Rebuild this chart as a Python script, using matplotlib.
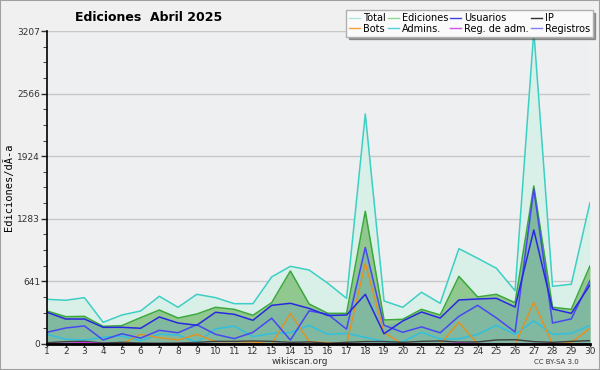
import numpy as np
import matplotlib
matplotlib.use("Agg")
import matplotlib.pyplot as plt
from matplotlib.lines import Line2D

# daily values, Abril 2025
dias = list(range(1, 31))
total = [458, 448, 475, 222, 297, 338, 489, 376, 509, 475, 413, 413, 687, 796, 758,
         622, 468, 2357, 441, 376, 530, 417, 977, 878, 776, 546, 3207, 591, 612, 1448]
ediciones = [338, 280, 283, 181, 188, 270, 348, 266, 307, 376, 355, 294, 423, 748, 410,
             314, 314, 1360, 246, 253, 355, 297, 693, 482, 509, 423, 1619, 376, 355, 800]
usuarios = [325, 256, 256, 171, 171, 161, 277, 215, 192, 325, 304, 243, 396, 417, 365,
            292, 297, 509, 105, 236, 328, 266, 451, 461, 468, 379, 1168, 359, 314, 605]
ip = [13, 24, 27, 10, 17, 10, 8, 10, 16, 27, 27, 31, 27, 17, 21,
      8, 17, 25, 25, 17, 27, 31, 20, 21, 41, 44, 24, 17, 27, 34]
bots = [0, 0, 0, 0, 0, 99, 65, 41, 99, 24, 24, 20, 0, 314, 24,
        14, 0, 826, 116, 0, 0, 0, 222, 0, 0, 0, 427, 0, 14, 161]
admins = [99, 48, 41, 68, 82, 34, 102, 92, 17, 154, 184, 75, 109, 116, 191,
          99, 109, 68, 24, 24, 120, 51, 51, 99, 191, 99, 236, 99, 109, 191]
reg_adm = [2, 5, 15, 3, 0, 1, 0, 0, 0, 2, 1, 0, 0, 1, 0,
           0, 0, 3, 0, 0, 2, 1, 8, 2, 1, 0, 3, 0, 1, 2]
registros = [120, 164, 185, 41, 105, 60, 140, 115, 198, 99, 55, 119, 264, 40, 340,
             305, 152, 990, 192, 120, 175, 115, 284, 396, 267, 123, 1588, 215, 257, 650]
yticks = [0, 641, 1283, 1924, 2566, 3207]

bg = '#eeeff1'
fig = plt.figure(figsize=(6, 3.7), dpi=100, facecolor='#f0f0f0')
ax = fig.add_axes([0.0783, 0.0703, 0.905, 0.8459])
ax.set_facecolor(bg)

ax.fill_between(dias, 0, total, color='#d8f0e8', lw=0)
ax.fill_between(dias, 0, ediciones, color='#90c890', lw=0)
ax.fill_between(dias, 0, np.maximum(usuarios, registros), color='#80b8a0', lw=0)

ax.plot(dias, total, color='#3ccfc4', lw=1.1)
ax.plot(dias, ediciones, color='#3aa83a', lw=1.1)
ax.plot(dias, admins, color='#30c0e0', lw=1.1)
ax.plot(dias, bots, color='#e8901c', lw=1.0)
ax.plot(dias, registros, color='#4848f0', lw=1.1)
ax.plot(dias, usuarios, color='#2828e0', lw=1.1)
ax.plot(dias, ip, color='#404040', lw=1.0)
ax.plot(dias, reg_adm, color='#d030e0', lw=1.0)

ax.set_xlim(1, 30)
ax.set_ylim(0, 3207)
ax.set_xticks(dias)
ax.set_yticks(yticks)
ax.set_yticks(np.linspace(0, 3207, 21), minor=True)
ax.tick_params(axis='both', labelsize=6.5, colors='#333333', width=1)
ax.tick_params(axis='y', which='major', length=4, pad=1)
ax.tick_params(axis='y', which='minor', length=3, color='#222222')
ax.tick_params(axis='x', length=2, pad=0.5)
ax.grid(axis='y', color='#c8c8c8', lw=1)
ax.set_axisbelow(True)
for s in ['top', 'right']:
    ax.spines[s].set_visible(False)
ax.spines['left'].set_linewidth(1.2)
ax.spines['bottom'].set_linewidth(2)

ax.set_ylabel('Ediciones/dÃ-a', family='DejaVu Sans Mono', fontsize=7.5, labelpad=2)
fig.text(0.247, 0.953, 'Ediciones  Abril 2025', fontsize=9, fontweight='bold',
         ha='center', va='center')
fig.text(0.5, 0.022, 'wikiscan.org', fontsize=6.5, ha='center', va='center', color='#333333')
fig.text(0.965, 0.022, 'CC BY-SA 3.0', fontsize=5, ha='right', va='center', color='#333333')

nombres = ['Total', 'Bots', 'Ediciones', 'Admins.', 'Usuarios', 'Reg. de adm.', 'IP', 'Registros']
colores = ['#a8e8e0', '#f0a040', '#90d890', '#50d0e0', '#4040e0', '#d050e8', '#303030', '#8080f0']
handles = [Line2D([], [], color=c, lw=1) for c in colores]
leg = fig.legend(handles, nombres, ncol=4, loc='upper left', bbox_to_anchor=(0.577, 0.972),
                 fontsize=7, frameon=True, shadow=True, fancybox=False, handlelength=1.1,
                 handletextpad=0.3, columnspacing=0.25, labelspacing=0.05, borderpad=0.3,
                 borderaxespad=0)
leg.get_frame().set_edgecolor('#b0b0b0')
leg.get_frame().set_facecolor('#fafafa')
leg.get_frame().set_alpha(1)

# outer border
fig.patches.append(plt.Rectangle((0, 0), 1, 1, transform=fig.transFigure, fill=False,
                                 edgecolor='#a0a0a0', lw=1.5))
fig.savefig('out.png', dpi=100, facecolor=fig.get_facecolor())
